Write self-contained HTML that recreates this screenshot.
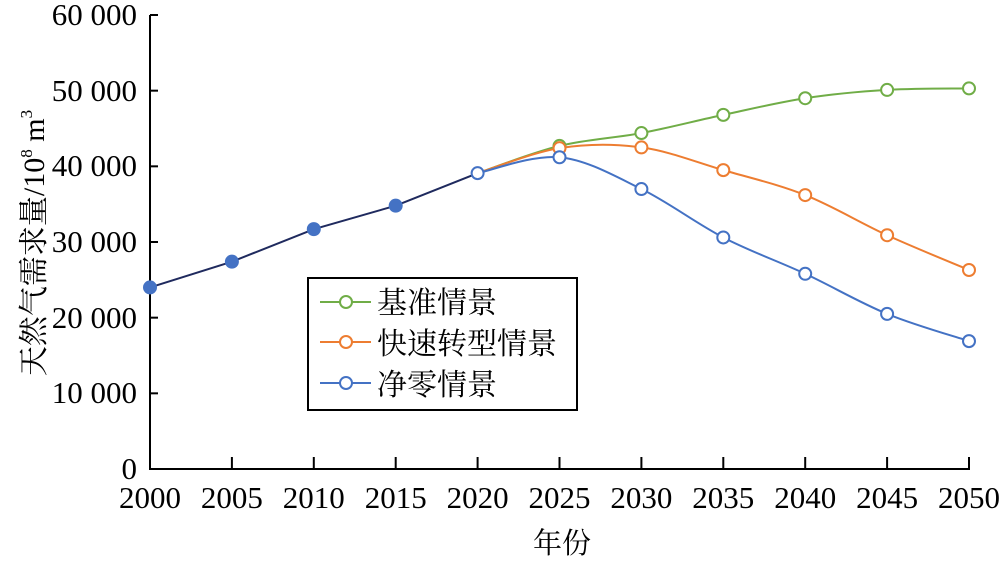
<!DOCTYPE html>
<html><head><meta charset="utf-8"><style>
body{margin:0;background:#fff;}
svg text{font-family:"Liberation Serif","Noto Serif CJK SC","Noto Sans CJK SC",serif;fill:#000;}
</style></head><body>
<svg id="c" width="1000" height="562" viewBox="0 0 1000 562" xmlns="http://www.w3.org/2000/svg">
<g stroke="#000" stroke-width="2" fill="none">
<line x1="150" y1="15" x2="150" y2="469"/>
<line x1="149" y1="469" x2="970" y2="469"/>
</g>
<g id="ticks" stroke="#000" stroke-width="2"></g>
<g font-size="31" text-anchor="end">
<text x="137" y="479">0</text>
<text x="137" y="403">10 000</text>
<text x="137" y="328">20 000</text>
<text x="137" y="252">30 000</text>
<text x="137" y="176">40 000</text>
<text x="137" y="101">50 000</text>
<text x="137" y="25">60 000</text>
</g>
<g id="xl" font-size="31" text-anchor="middle"></g>
<text x="562" y="553" font-size="29" text-anchor="middle">年份</text>
<text transform="translate(44,243) rotate(-90)" font-size="30" text-anchor="middle">天然气需求量/10<tspan font-size="17" dy="-12">8</tspan><tspan dy="12"> m</tspan><tspan font-size="17" dy="-12">3</tspan></text>
<g id="series"></g>
<rect x="308" y="278" width="269" height="132" fill="#fff" stroke="#000" stroke-width="2"/>
<g stroke-width="2" fill="#fff">
<line x1="320" y1="302" x2="371" y2="302" stroke="#70ad47"/><circle cx="346" cy="302" r="6" stroke="#70ad47"/>
<line x1="320" y1="342" x2="371" y2="342" stroke="#ed7d31"/><circle cx="346" cy="342" r="6" stroke="#ed7d31"/>
<line x1="320" y1="383" x2="371" y2="383" stroke="#4472c4"/><circle cx="346" cy="383" r="6" stroke="#4472c4"/>
</g>
<g font-size="30">
<text x="377" y="313">基准情景</text>
<text x="377" y="354">快速转型情景</text>
<text x="377" y="395">净零情景</text>
</g>
</svg>
<script>
var NS="http://www.w3.org/2000/svg";
function X(y){return 150+(y-2000)*16.38;}
function Y(v){return 469-v*454/60000;}
function el(t,a,p){var e=document.createElementNS(NS,t);for(var k in a)e.setAttribute(k,a[k]);p.appendChild(e);return e;}
var tk=document.getElementById('ticks'),xl=document.getElementById('xl');
for(var i=1;i<=6;i++){var y=Y(i*10000);el('line',{x1:150,y1:y,x2:158,y2:y},tk);}
for(var yr=2000;yr<=2050;yr+=5){var x=X(yr);if(yr>2000)el('line',{x1:x,y1:457,x2:x,y2:469},tk);var t=el('text',{x:x,y:508},xl);t.textContent=yr;}
var g=document.getElementById('series');
function smooth(pts){var d="M"+pts[0][0]+","+pts[0][1];for(var i=0;i<pts.length-1;i++){var p0=pts[i-1]||pts[i],p1=pts[i],p2=pts[i+1],p3=pts[i+2]||p2;var c1=[p1[0]+(p2[0]-p0[0])/6,p1[1]+(p2[1]-p0[1])/6],c2=[p2[0]-(p3[0]-p1[0])/6,p2[1]-(p3[1]-p1[1])/6];d+=" C"+c1+" "+c2+" "+p2;}return d;}
var yrs=[2020,2025,2030,2035,2040,2045,2050];
var S=[["#70ad47",[39100,42700,44400,46800,49000,50100,50300]],["#ed7d31",[39100,42400,42500,39500,36200,30900,26300]],["#4472c4",[39100,41200,37000,30600,25800,20500,16900]]];
S.forEach(function(s){var pts=yrs.map(function(y,i){return [X(y),Y(s[1][i])];});el('path',{d:smooth(pts),fill:'none',stroke:s[0],'stroke-width':2},g);});
var hist=[24000,27400,31700,34800,39100];
var hp=hist.map(function(v,i){return [X(2000+5*i),Y(v)];});
el('path',{d:"M"+hp.join(" L"),fill:'none',stroke:'#1f2a5e','stroke-width':2},g);
hp.slice(0,4).forEach(function(p){el('circle',{cx:p[0],cy:p[1],r:7,fill:'#4472c4'},g);});
S.forEach(function(s){yrs.forEach(function(y,i){if(i==0)return;el('circle',{cx:X(y),cy:Y(s[1][i]),r:6,fill:'#fff',stroke:s[0],'stroke-width':2},g);});});
el('circle',{cx:X(2020),cy:Y(39100),r:6,fill:'#fff',stroke:'#4472c4','stroke-width':2},g);
</script>
</body></html>
